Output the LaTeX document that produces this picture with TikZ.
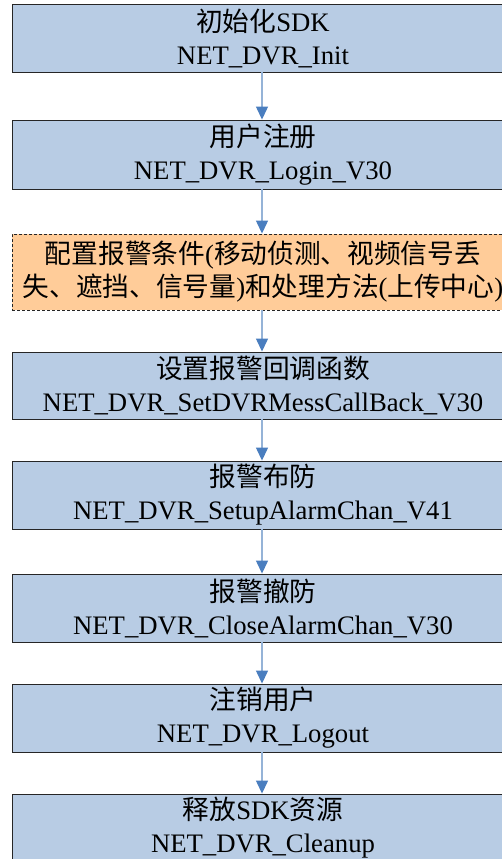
\documentclass[tikz,border=0pt]{standalone}
\usepackage{fontspec}
\setmainfont{Liberation Serif}
\newfontfamily\cjk{Noto Sans CJK SC}
\usetikzlibrary{arrows.meta}
\definecolor{boxblue}{HTML}{B8CCE4}
\definecolor{boxorange}{HTML}{FFCC99}
\definecolor{lineblue}{HTML}{95B3D7}
\definecolor{headblue}{HTML}{4A7EBF}
\tikzset{
  stepbox/.style={draw=black!85, line width=0.9pt, fill=boxblue, minimum width=502pt, inner sep=0pt, align=center, font=\fontsize{26.7}{33}\selectfont},
  condbox/.style={stepbox, fill=boxorange, dashed, dash pattern=on 3pt off 2pt},
  flow/.style={draw=lineblue, line width=1.3pt, -{Triangle[length=13pt,width=12pt,color=headblue]}}
}
\begin{document}
\begin{tikzpicture}[x=1pt,y=1pt]
\useasboundingbox (0,0) rectangle (502,-859);
\clip (0,0) rectangle (502,-859);
\node[stepbox, minimum height=68pt] (b1) at (263,-38) {{\cjk 初始化}SDK\\NET\_DVR\_Init};
\node[stepbox, minimum height=69pt] (b2) at (263,-154.5) {{\cjk 用户注册}\\NET\_DVR\_Login\_V30};
\node[condbox, minimum height=76pt] (b3) at (263,-272) {{\cjk 配置报警条件}({\cjk 移动侦测、视频信号丢}\\{\cjk 失、遮挡、信号量})\hspace{0pt}{\cjk 和处理方法}({\cjk 上传中心})};
\node[stepbox, minimum height=67pt] (b4) at (263,-385.5) {{\cjk 设置报警回调函数}\\NET\_DVR\_SetDVRMessCallBack\_V30};
\node[stepbox, minimum height=68pt] (b5) at (263,-495) {{\cjk 报警布防}\\NET\_DVR\_SetupAlarmChan\_V41};
\node[stepbox, minimum height=68pt] (b6) at (263,-608) {{\cjk 报警撤防}\\NET\_DVR\_CloseAlarmChan\_V30};
\node[stepbox, minimum height=68pt] (b7) at (263,-718) {{\cjk 注销用户}\\NET\_DVR\_Logout};
\node[stepbox, minimum height=68pt] (b8) at (263,-828) {{\cjk 释放}SDK{\cjk 资源}\\NET\_DVR\_Cleanup};
\foreach \a/\b in {b1/b2,b2/b3,b3/b4,b4/b5,b5/b6,b6/b7,b7/b8}
  \draw[flow] ([xshift=-1pt]\a.south) -- ([xshift=-1pt]\b.north);
\end{tikzpicture}
\end{document}
